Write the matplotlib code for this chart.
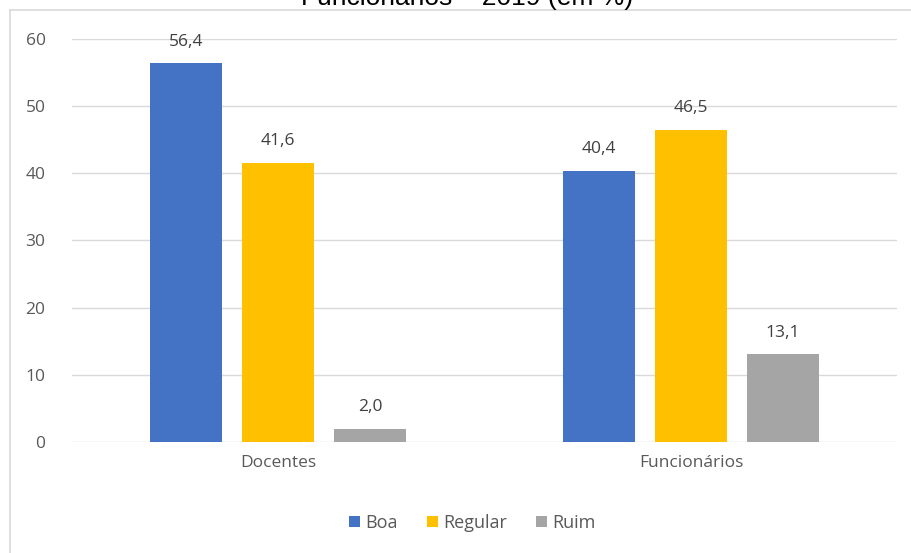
import numpy as np
import matplotlib.pyplot as plt
from matplotlib.lines import Line2D

# Dados
categorias = ['Docentes', 'Funcionários']
series = ['Boa', 'Regular', 'Ruim']
boa = [56.4, 40.4]
regular = [41.6, 46.5]
ruim = [2.0, 13.1]
cores = ['#4472C4', '#FFC000', '#A5A5A5']

plt.rcParams['font.family'] = ['Open Sans', 'DejaVu Sans']

fig = plt.figure(figsize=(9.11, 5.53), dpi=100)
ax = fig.add_axes([0.079, 0.2007, 0.906, 0.7288])

x = np.arange(len(categorias))
largura = 0.1745
passo = 0.223

for k, (nome, vals) in enumerate(zip(series, [boa, regular, ruim])):
    pos = x + (k - 1) * passo
    barras = ax.bar(pos, vals, width=largura, color=cores[k], label=nome, zorder=3)
    for b, v in zip(barras, vals):
        ax.text(b.get_x() + b.get_width() / 2, v + 2.0, f'{v:.1f}'.replace('.', ','),
                ha='center', va='bottom', fontsize=12.5, color='#404040')

ax.set_xlim(-0.5, 1.5)
ax.set_ylim(0, 60)
ax.set_yticks(range(0, 61, 10))
ax.set_xticks(x)
ax.set_xticklabels(categorias)
ax.tick_params(length=0, labelsize=12.5, labelcolor='#595959')
ax.tick_params(axis='y', pad=19)
ax.tick_params(axis='x', pad=9)
ax.grid(axis='y', color='#D9D9D9', linewidth=1, zorder=0)
for s in ax.spines.values():
    s.set_visible(False)

ax.legend(loc='center', bbox_to_anchor=(0.485, -0.2), ncol=3, frameon=False,
          fontsize=13, labelcolor='#595959', handlelength=0.6, handleheight=0.6,
          handletextpad=0.3, columnspacing=1.6)

# Moldura cortada
fig.add_artist(Line2D([10 / 911, 10 / 911], [0, 1 - 10 / 553], color='#D9D9D9', lw=1.2))
fig.add_artist(Line2D([10 / 911, 1], [1 - 10 / 553, 1 - 10 / 553], color='#D9D9D9', lw=1.2))

# Título cortado no topo (como na imagem original)
fig.text(467 / 911, 1 - 5 / 553, 'Funcionários – 2019 (em %)', ha='center', va='baseline',
         fontsize=19, color='#000000', family=['Liberation Sans', 'DejaVu Sans'])

fig.savefig('out.png', dpi=100)
